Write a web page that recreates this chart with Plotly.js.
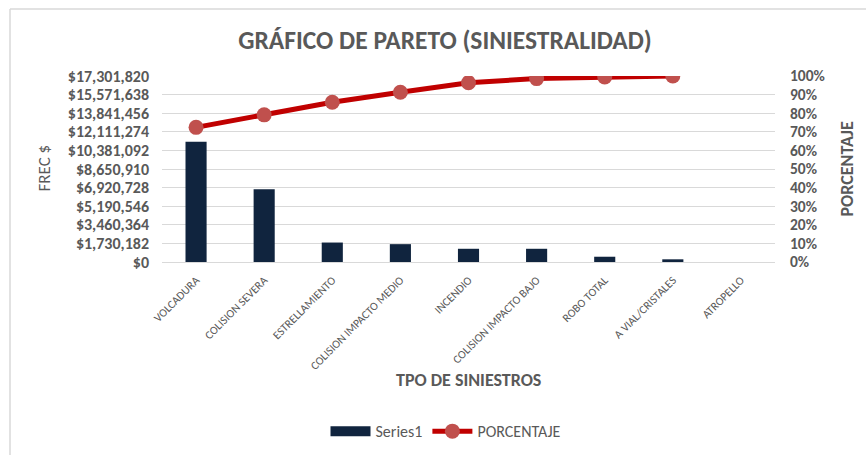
<!DOCTYPE html>
<html>
<head>
<meta charset="utf-8">
<script src="https://cdn.plot.ly/plotly-3.0.1.min.js"></script>
<style>html,body{margin:0;padding:0;background:#fff;}#chart{width:866px;height:461px;}</style>
</head>
<body>
<div id="chart"></div>
<script>
const categories = ["VOLCADURA", "COLISION SEVERA", "ESTRELLAMIENTO", "COLISION IMPACTO MEDIO", "INCENDIO", "COLISION IMPACTO BAJO", "ROBO TOTAL", "A VIAL/CRISTALES", "ATROPELLO"];
const frecuencia = [11180000, 6760000, 1810000, 1660000, 1230000, 1230000, 490000, 250000, 0];
const porcentajeCats = ["VOLCADURA", "COLISION SEVERA", "ESTRELLAMIENTO", "COLISION IMPACTO MEDIO", "INCENDIO", "COLISION IMPACTO BAJO", "ROBO TOTAL", "A VIAL/CRISTALES"];
const porcentaje = [0.724, 0.791, 0.859, 0.913, 0.964, 0.986, 0.995, 1.0];
const leftTicks = [0, 1730182, 3460364, 5190546, 6920728, 8650910, 10381092, 12111274, 13841456, 15571638, 17301820];
const leftTickText = ["$0", "$1,730,182", "$3,460,364", "$5,190,546", "$6,920,728", "$8,650,910", "$10,381,092", "$12,111,274", "$13,841,456", "$15,571,638", "$17,301,820"];

const FONT = "Carlito, Calibri, Lato, 'Open Sans', sans-serif";
const GRAY = "#595959";
const NAVY = "#10243E";

const traces = [
  {
    type: "bar", name: "Series1", x: categories, y: frecuencia,
    marker: {color: NAVY}, yaxis: "y", showlegend: false
  },
  {
    type: "scatter", mode: "lines", name: "Series1", x: [null], y: [null],
    line: {color: NAVY, width: 10}, yaxis: "y", hoverinfo: "skip"
  },
  {
    type: "scatter", mode: "lines+markers", name: "PORCENTAJE",
    x: porcentajeCats, y: porcentaje, yaxis: "y2",
    line: {color: "#C00000", width: 5},
    marker: {color: "#C0504D", size: 15}
  }
];

const layout = {
  width: 866, height: 461,
  margin: {l: 162, r: 91, t: 76, b: 196},
  paper_bgcolor: "#fff", plot_bgcolor: "#fff",
  font: {family: FONT, color: GRAY},
  showlegend: true,
  bargap: 0.69,
  title: {
    text: "<b>GRÁFICO DE PARETO (SINIESTRALIDAD)</b>",
    font: {size: 25.5, color: GRAY, family: FONT},
    xref: "container", yref: "container",
    x: 445/866, y: 1 - 40/461, xanchor: "center", yanchor: "middle"
  },
  xaxis: {
    type: "category", tickangle: -45,
    tickfont: {size: 11.5, color: GRAY, family: FONT},
    showgrid: false, zeroline: false,
    showline: true, linecolor: "#D9D9D9", linewidth: 1,
    ticks: "", ticklabelstandoff: 6,
    range: [-0.5, 8.5]
  },
  yaxis: {
    range: [0, 17301820], tickvals: leftTicks, ticktext: leftTickText,
    tickfont: {size: 16, color: GRAY, family: FONT, weight: "bold"},
    showgrid: true, gridcolor: "#D9D9D9", gridwidth: 1,
    zeroline: false, ticks: "", ticklabelstandoff: 12
  },
  yaxis2: {
    overlaying: "y", side: "right",
    range: [0, 1], dtick: 0.1, tickformat: ".0%",
    tickfont: {size: 15.5, color: GRAY, family: FONT, weight: "bold"},
    showgrid: false, zeroline: false, ticks: "", ticklabelstandoff: 14
  },
  legend: {
    orientation: "h", x: (446-162)/613, y: (265-437)/189, xanchor: "center", yanchor: "middle",
    font: {size: 16, color: GRAY, family: FONT}, itemwidth: 40
  },
  annotations: [
    {text: "FREC $", xref: "paper", yref: "paper", x: (45-162)/613, y: (265-170)/189,
     textangle: -90, showarrow: false, font: {size: 17, color: GRAY, family: FONT}, xanchor: "center", yanchor: "middle"},
    {text: "<b>PORCENTAJE</b>", xref: "paper", yref: "paper", x: (847-162)/613, y: (265-170)/189,
     textangle: -90, showarrow: false, font: {size: 18, color: GRAY, family: FONT}, xanchor: "center", yanchor: "middle"},
    {text: "<b>TPO DE SINIESTROS</b>", xref: "paper", yref: "paper", x: (469-162)/613, y: (265-385)/189,
     showarrow: false, font: {size: 18, color: GRAY, family: FONT}, xanchor: "center", yanchor: "middle"}
  ],
  shapes: [
    {type: "line", xref: "paper", yref: "paper", x0: (10-162)/613, x1: (866-162)/613, y0: (265-8)/189, y1: (265-8)/189,
     line: {color: "#D9D9D9", width: 1.5}},
    {type: "line", xref: "paper", yref: "paper", x0: (10-162)/613, x1: (10-162)/613, y0: (265-8)/189, y1: (265-461)/189,
     line: {color: "#D9D9D9", width: 1.5}}
  ]
};

Plotly.newPlot("chart", traces, layout, {displayModeBar: false, staticPlot: true});
</script>
</body>
</html>
